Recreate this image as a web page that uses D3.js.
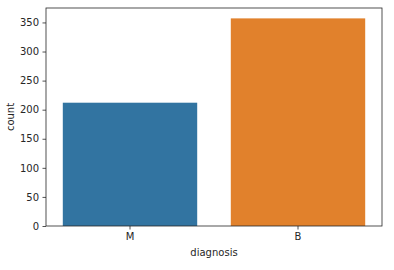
<!DOCTYPE html>
<html>
<head>
<meta charset="UTF-8"/>
<style>
  body { margin: 0; background: #fff; }
  svg { display: block; }
  text { font-family: "DejaVu Sans", sans-serif; font-size: 10px; fill: #262626; }
  .domain { stroke: none; }
  .tick line { stroke: #262626; stroke-width: 0.8; }
</style>
</head>
<body>
<svg width="394" height="270"></svg>
<script src="https://d3js.org/d3.v7.min.js"></script>
<script>
const categories = ['M', 'B'];
const counts = [212, 357];
const colors = ['#3274a1', '#e1812c'];
const yTicks = [0, 50, 100, 150, 200, 250, 300, 350];

const svg = d3.select('svg');
const plotLeft = 46, plotRight = 382, plotTop = 8, plotBottom = 226;

const x = d3.scaleBand()
  .domain(categories)
  .range([plotLeft, plotRight])
  .paddingInner(0.2)
  .paddingOuter(0.1);
const y = d3.scaleLinear()
  .domain([0, d3.max(counts) * 1.05])
  .range([plotBottom, plotTop]);

svg.selectAll('rect.bar')
  .data(categories)
  .enter()
  .append('rect')
  .attr('class', 'bar')
  .attr('x', d => x(d))
  .attr('width', x.bandwidth())
  .attr('y', (d, i) => y(counts[i]))
  .attr('height', (d, i) => plotBottom - y(counts[i]))
  .attr('fill', (d, i) => colors[i]);

svg.append('g')
  .attr('transform', `translate(0,${plotBottom})`)
  .call(d3.axisBottom(x).tickSize(3.5).tickPadding(3.5))
  .selectAll('text').attr('dy', '0.71em');

svg.append('g')
  .attr('transform', `translate(${plotLeft},0)`)
  .call(d3.axisLeft(y).tickValues(yTicks).tickSize(3.5).tickPadding(3.5));

svg.append('rect')
  .attr('x', plotLeft).attr('y', plotTop)
  .attr('width', plotRight - plotLeft).attr('height', plotBottom - plotTop)
  .attr('fill', 'none').attr('stroke', '#262626').attr('stroke-width', 0.8);

svg.append('text')
  .attr('x', (plotLeft + plotRight) / 2)
  .attr('y', 256)
  .attr('text-anchor', 'middle')
  .text('diagnosis');

svg.append('text')
  .attr('transform', `translate(14,${(plotTop + plotBottom) / 2}) rotate(-90)`)
  .attr('text-anchor', 'middle')
  .text('count');
</script>
</body>
</html>
